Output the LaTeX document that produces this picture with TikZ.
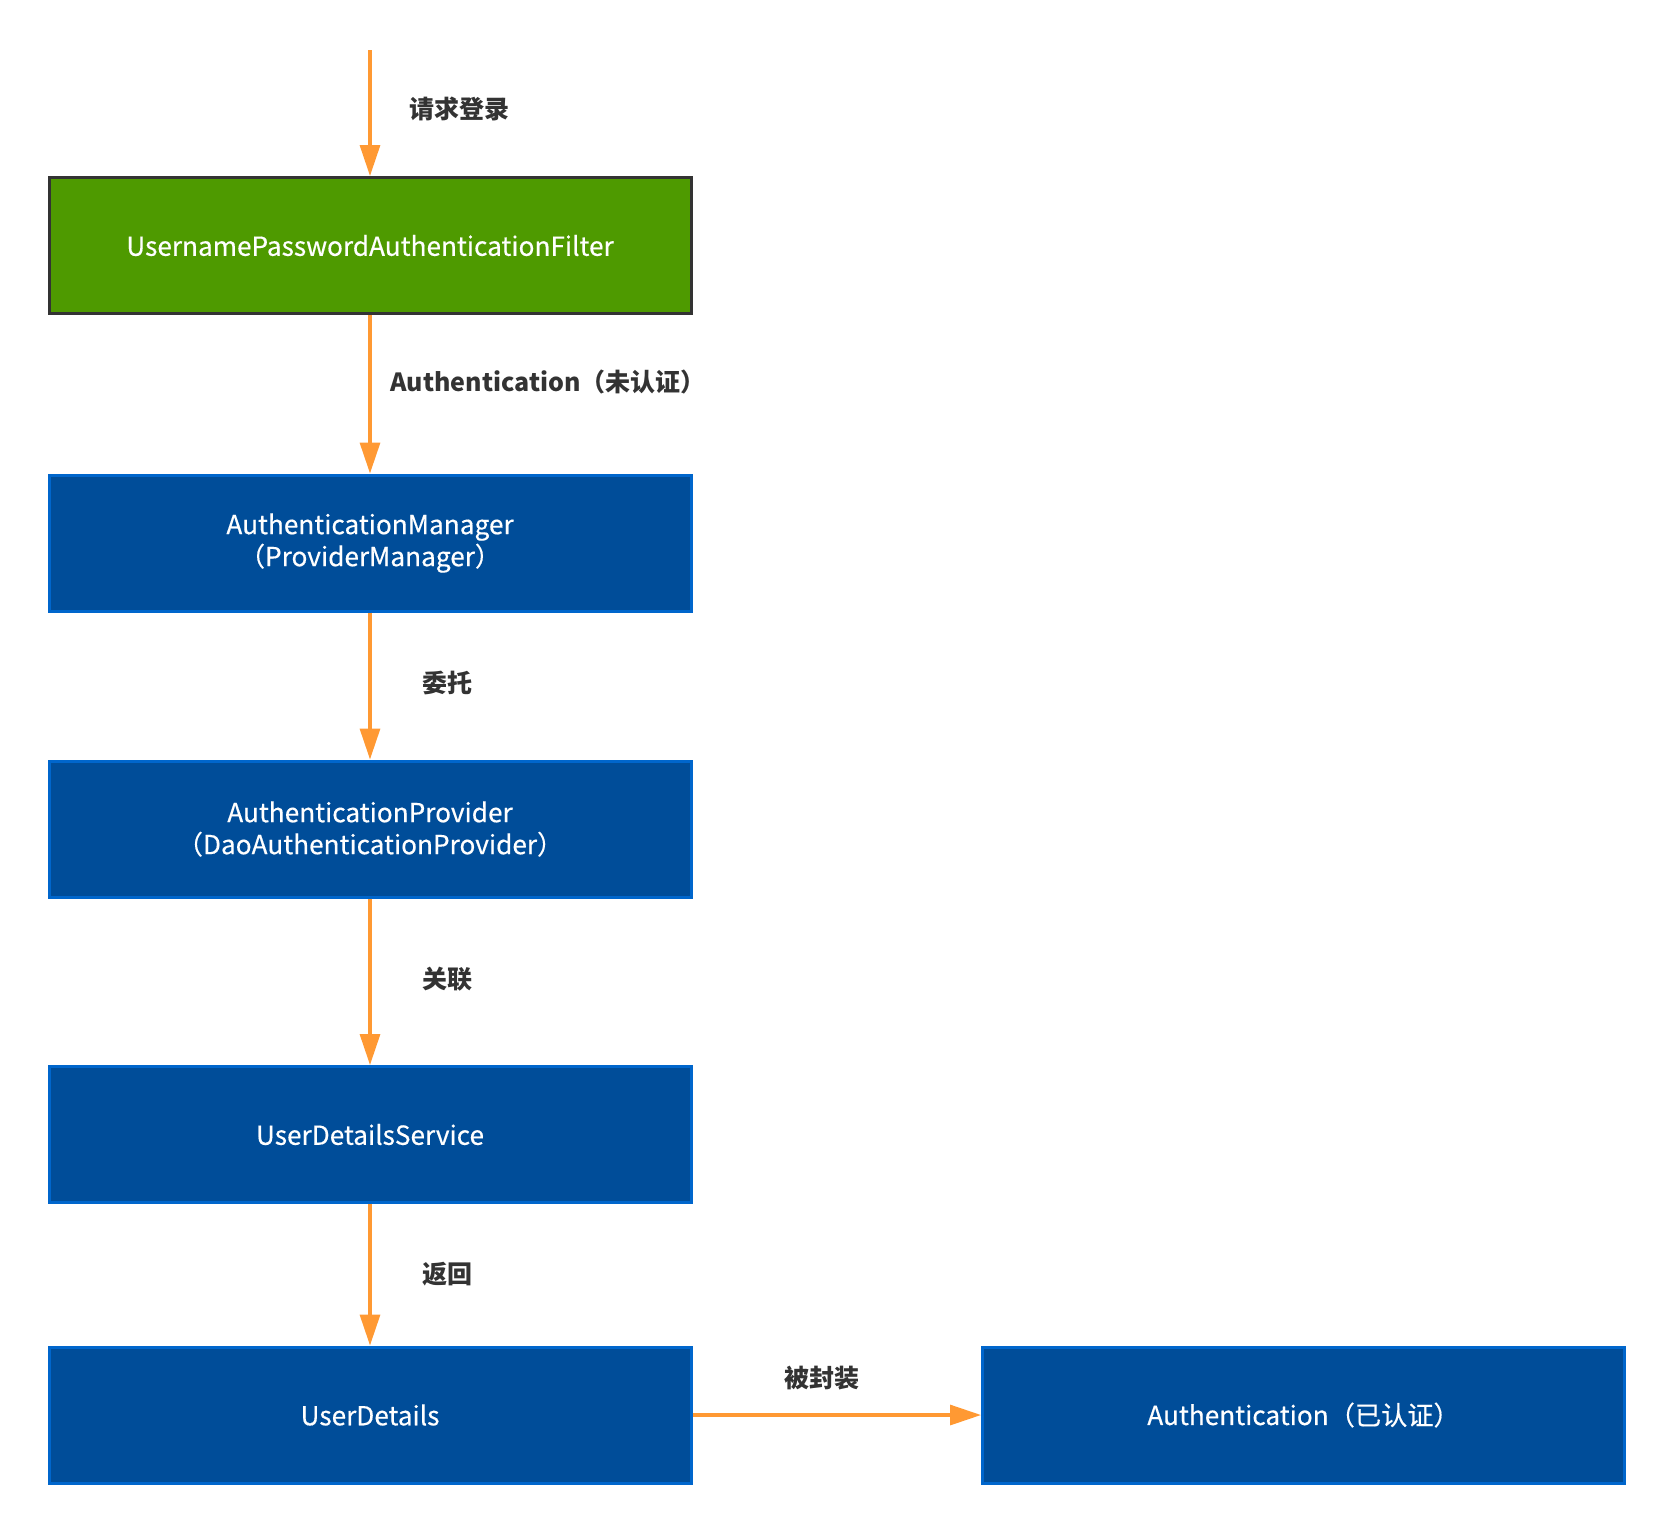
\documentclass[tikz,border=0pt]{standalone}
\usepackage{fontspec}
\setmainfont{Noto Sans CJK SC}
\newfontfamily\boxfont[FakeBold=0.4]{Noto Sans CJK SC}
\usetikzlibrary{arrows.meta}
\definecolor{greenfill}{HTML}{4E9A00}
\definecolor{greenborder}{HTML}{333333}
\definecolor{bluefill}{HTML}{004D99}
\definecolor{blueborder}{HTML}{0066CC}
\definecolor{arrowc}{HTML}{FF9933}
\definecolor{labelc}{HTML}{333333}
\tikzset{
  box/.style={draw=blueborder, fill=bluefill, line width=1.5pt, text=white,
    minimum width=321pt, minimum height=68pt, inner sep=0pt, align=center,
    font=\boxfont\fontsize{13.1}{16}\selectfont},
  greenbox/.style={box, draw=greenborder, fill=greenfill},
  flow/.style={draw=arrowc, line width=1.6pt, -{Triangle[length=15.5pt,width=10pt]}},
  elabel/.style={text=labelc, anchor=west, inner sep=0pt, font=\fontsize{12.5}{16}\selectfont\bfseries}
}
\begin{document}
\begin{tikzpicture}[x=0.5pt,y=-0.5pt]
\useasboundingbox (0,0) rectangle (1674,1532);
\node[greenbox] (filter) at (370,245.5) {UsernamePasswordAuthenticationFilter};
\coordinate (start) at (370,50);
\node[box] (mgr) at (370,543) {AuthenticationManager\\（ProviderManager）};
\node[box] (prov) at (370,829) {AuthenticationProvider\\（DaoAuthenticationProvider）};
\node[box] (uds) at (370,1134.5) {UserDetailsService};
\node[box] (ud) at (370,1415) {UserDetails};
\node[box] (auth) at (1303.5,1415) {Authentication（已认证）};

\draw[flow] (start) -- (filter.north);
\draw[flow] (filter) -- (mgr);
\draw[flow] (mgr) -- (prov);
\draw[flow] (prov) -- (uds);
\draw[flow] (uds) -- (ud);
\draw[flow] (ud) -- (auth);

\node[elabel] (l1) at (409,109) {请求登录};
\node[elabel] (l2) at (390,382) {Authentication（未认证）};
\node[elabel] (l3) at (422,683) {委托};
\node[elabel] (l4) at (422,979) {关联};
\node[elabel] (l5) at (422,1274) {返回};
\node[elabel, anchor=center] (l6) at (822,1378) {被封装};
\end{tikzpicture}
\end{document}
